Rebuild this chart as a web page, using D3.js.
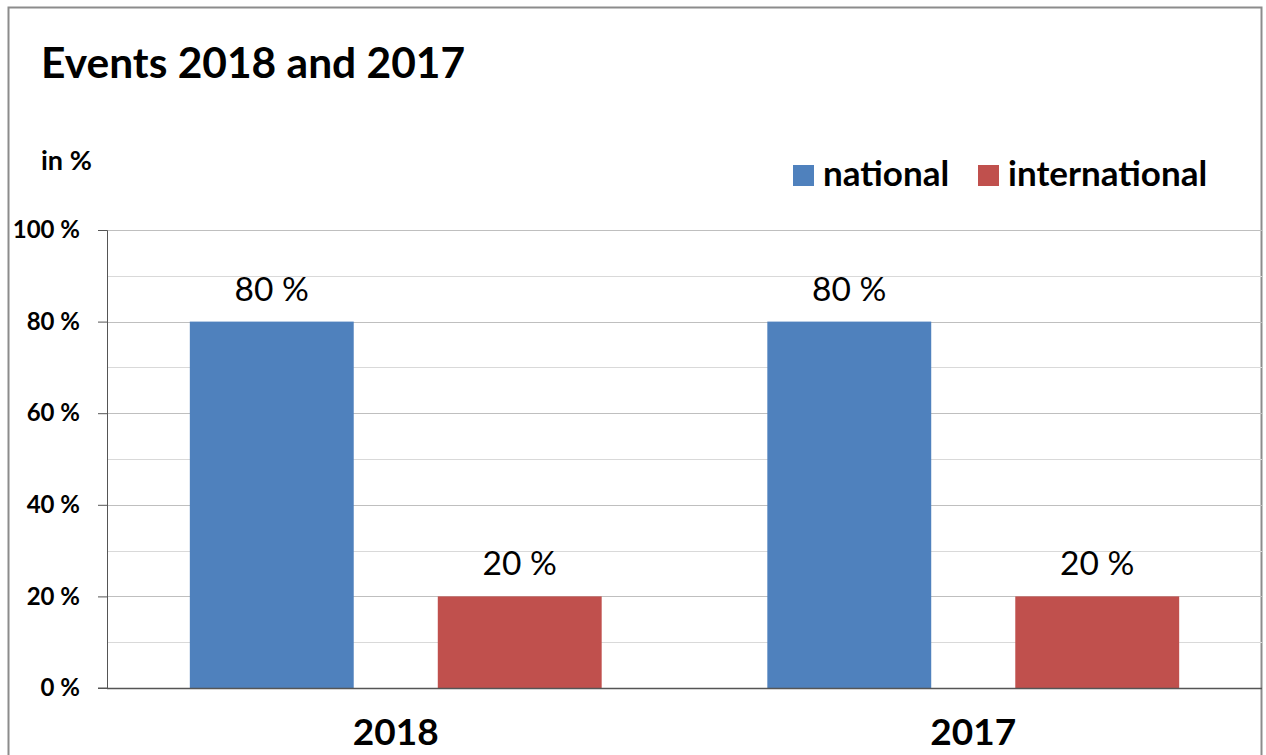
<!DOCTYPE html>
<html>
<head>
<meta charset="utf-8">
<script src="https://cdn.jsdelivr.net/npm/d3@7"></script>
<style>
  body { margin: 0; background: #fff; }
  text { font-family: Lato, "Open Sans", sans-serif; }
</style>
</head>
<body>
<div id="chart-area"></div>
<script>
// --> DATA
var years = ["2018", "2017"];
var seriesNames = ["national", "international"];
var national = [80, 80];
var international = [20, 20];
var yTicks = [0, 20, 40, 60, 80, 100];
var colors = ["#4f81bd", "#c0504d"];

var width = 1266;
var height = 755;

var svg = d3.select("#chart-area").append("svg")
  .attr("width", width)
  .attr("height", height);

// outer frame
svg.append("rect")
  .attr("x", 8.5).attr("y", 7.5)
  .attr("width", 1253).attr("height", 760)
  .attr("fill", "none")
  .attr("stroke", "#8c8c8c")
  .attr("stroke-width", 2);

var margin = { left: 107, right: 4, top: 230, bottom: 67 };
var plotW = width - margin.left - margin.right;
var plotH = height - margin.top - margin.bottom;

var g = svg.append("g")
  .attr("transform", "translate(" + margin.left + "," + margin.top + ")");

// Scales
var x0 = d3.scaleBand().domain(years).range([0, plotW]);
var x1 = d3.scaleBand().domain(seriesNames)
  .range([0, x0.bandwidth()])
  .paddingInner(0.339)
  .paddingOuter(0.334);
var y = d3.scaleLinear().domain([0, 100]).range([plotH, 0]);

// gridlines (minor every 10, major every 20)
g.selectAll(".minor")
  .data(d3.range(10, 100, 20))
  .enter().append("line")
  .attr("x1", 0).attr("x2", plotW)
  .attr("y1", function(d){ return Math.round(y(d)) + 0.5; })
  .attr("y2", function(d){ return Math.round(y(d)) + 0.5; })
  .attr("stroke", "#d9d9d9");

g.selectAll(".major")
  .data(yTicks.slice(1))
  .enter().append("line")
  .attr("x1", 0).attr("x2", plotW)
  .attr("y1", function(d){ return Math.round(y(d)) + 0.5; })
  .attr("y2", function(d){ return Math.round(y(d)) + 0.5; })
  .attr("stroke", "#bfbfbf");

// bars
var rows = years.map(function(yr, i){
  return { year: yr, values: [
    { name: seriesNames[0], value: national[i] },
    { name: seriesNames[1], value: international[i] }
  ]};
});

var groups = g.selectAll(".grp")
  .data(rows)
  .enter().append("g")
  .attr("transform", function(d){ return "translate(" + x0(d.year) + ",0)"; });

groups.selectAll("rect")
  .data(function(d){ return d.values; })
  .enter().append("rect")
  .attr("x", function(d){ return x1(d.name); })
  .attr("width", x1.bandwidth())
  .attr("y", function(d){ return y(d.value); })
  .attr("height", function(d){ return plotH - y(d.value); })
  .attr("fill", function(d, i){ return colors[i]; });

groups.selectAll(".lbl")
  .data(function(d){ return d.values; })
  .enter().append("text")
  .attr("x", function(d){ return x1(d.name) + x1.bandwidth() / 2; })
  .attr("y", function(d){ return y(d.value) - 21; })
  .attr("text-anchor", "middle")
  .style("font-size", "33.5px")
  .text(function(d){ return d.value + " %"; });

// y axis
var yAxis = d3.axisLeft(y)
  .tickValues(yTicks)
  .tickSize(9)
  .tickPadding(18)
  .tickFormat(function(d){ return d + " %"; });

var ya = g.append("g").call(yAxis);
ya.select(".domain").attr("stroke", "#555").attr("d", "M-9,0.5H0.5V" + plotH + "H-9");
ya.selectAll(".tick line").attr("stroke", "#555");
ya.selectAll(".tick text")
  .style("font-size", "24px")
  .style("font-weight", "bold")
  .attr("fill", "#000");

// baseline
g.append("line")
  .attr("x1", 0).attr("x2", plotW)
  .attr("y1", plotH + 0.5).attr("y2", plotH + 0.5)
  .attr("stroke", "#555").attr("stroke-width", 1.5);

// x labels
g.selectAll(".xl")
  .data(years)
  .enter().append("text")
  .attr("x", function(d){ return x0(d) + x0.bandwidth() / 2; })
  .attr("y", plotH + 57)
  .attr("text-anchor", "middle")
  .style("font-size", "37px")
  .style("font-weight", "bold")
  .text(function(d){ return d; });

// title
svg.append("text")
  .attr("x", 41).attr("y", 78)
  .style("font-size", "42.5px")
  .style("font-weight", "bold")
  .text("Events 2018 and 2017");

svg.append("text")
  .attr("x", 41).attr("y", 170)
  .style("font-size", "27px")
  .style("font-weight", "bold")
  .text("in %");

// legend
var legendX = [793, 978];
var legend = svg.selectAll(".legend")
  .data(seriesNames)
  .enter().append("g")
  .attr("transform", function(d, i){ return "translate(" + legendX[i] + ",165)"; });

legend.append("rect")
  .attr("width", 21).attr("height", 21)
  .attr("fill", function(d, i){ return colors[i]; });

legend.append("text")
  .attr("x", 30).attr("y", 21)
  .style("font-size", "35px")
  .style("font-weight", "bold")
  .text(function(d){ return d; });
</script>
</body>
</html>
